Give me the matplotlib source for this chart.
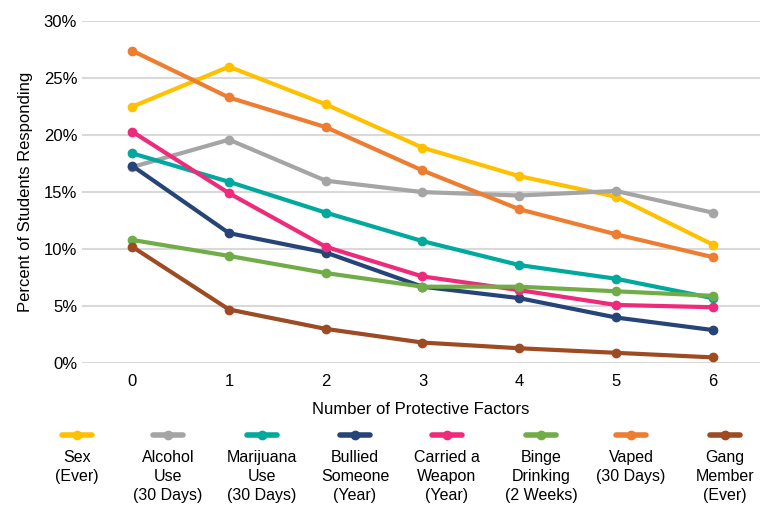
import matplotlib.pyplot as plt
from matplotlib.lines import Line2D
from matplotlib.ticker import PercentFormatter

plt.rcParams['font.family'] = ['Liberation Sans', 'DejaVu Sans']

factors = [0, 1, 2, 3, 4, 5, 6]
labels = ["Sex\n(Ever)", "Alcohol\nUse\n(30 Days)", "Marijuana\nUse\n(30 Days)",
          "Bullied\nSomeone\n(Year)", "Carried a\nWeapon\n(Year)",
          "Binge\nDrinking\n(2 Weeks)", "Vaped\n(30 Days)", "Gang\nMember\n(Ever)"]
sex = [22.5, 26.0, 22.7, 18.9, 16.4, 14.6, 10.4]
alcohol = [17.2, 19.6, 16.0, 15.0, 14.7, 15.1, 13.2]
marijuana = [18.4, 15.9, 13.2, 10.7, 8.6, 7.4, 5.7]
bullied = [17.3, 11.4, 9.7, 6.7, 5.7, 4.0, 2.9]
weapon = [20.3, 14.9, 10.2, 7.6, 6.4, 5.1, 4.9]
binge = [10.8, 9.4, 7.9, 6.7, 6.7, 6.3, 5.9]
vaped = [27.4, 23.3, 20.7, 16.9, 13.5, 11.3, 9.3]
gang = [10.2, 4.7, 3.0, 1.8, 1.3, 0.9, 0.5]

series = [sex, alcohol, marijuana, bullied, weapon, binge, vaped, gang]
colors = ["#FFC000", "#A5A5A5", "#00A99D", "#264478", "#EE2A7B",
          "#70AD47", "#ED7D31", "#9E4A22"]

fig = plt.figure(figsize=(7.7, 5.15), dpi=100)
ax = fig.add_axes([0.1065, 0.295, 0.8805, 0.664])

for vals, c in zip(series, colors):
    ax.plot(factors, vals, color=c, lw=3, marker='o', ms=6, solid_capstyle='round')

ax.set_xlim(-0.52, 6.49)
ax.set_ylim(0, 30)
ax.set_yticks(range(0, 31, 5))
ax.yaxis.set_major_formatter(PercentFormatter(decimals=0))
ax.set_xticks(factors)
ax.grid(axis='y', color='#D9D9D9', lw=1.5)
ax.set_axisbelow(True)
for s in ax.spines.values():
    s.set_visible(False)
ax.tick_params(length=0, labelsize=12, colors='#000000')
ax.tick_params(axis='x', pad=8)
ax.set_xlabel("Number of Protective Factors", fontsize=12, labelpad=9)
ax.set_ylabel("Percent of Students Responding", fontsize=12, labelpad=8)

# custom legend below the chart
centers = [77, 168, 262, 355, 447, 541, 631, 725]
for cx, c, lab in zip(centers, colors, labels):
    x = cx / 770
    y = 1 - 435 / 515
    fig.add_artist(Line2D([x - 15 / 770, x + 15 / 770], [y, y], color=c, lw=4,
                          solid_capstyle='round'))
    fig.add_artist(Line2D([x], [y], color=c, marker='o', ms=6))
    fig.text(x, 1 - 450 / 515, lab, ha='center', va='top', fontsize=11.5,
             linespacing=1.33)

fig.savefig("out.png", dpi=100)
